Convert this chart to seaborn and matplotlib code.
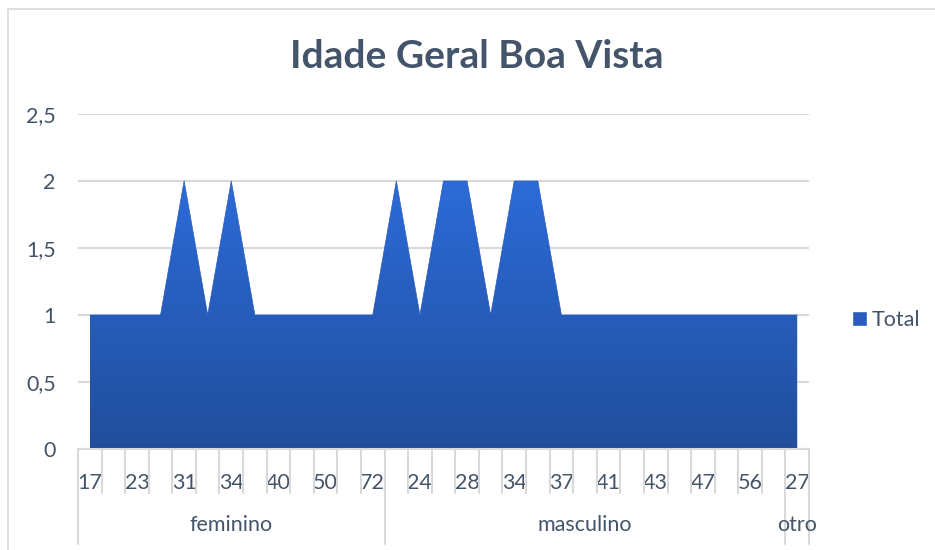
import numpy as np
import seaborn as sns
import matplotlib.pyplot as plt
from matplotlib.colors import LinearSegmentedColormap
from matplotlib.patches import Patch, Rectangle
import matplotlib.transforms as mtrans

# age categories per group (every other one hidden on the axis in the original)
feminino = [17, 20, 23, 27, 31, 33, 34, 38, 40, 45, 50, 61, 72]
masculino = [22, 24, 26, 28, 30, 34, 35, 37, 39, 41, 42, 43, 45, 47, 52, 56, 60]
otro = [27]
groups = ["feminino", "masculino", "otro"]

total_fem = [1, 1, 1, 1, 2, 1, 2, 1, 1, 1, 1, 1, 1]
total_masc = [2, 1, 2, 2, 1, 2, 2, 1, 1, 1, 1, 1, 1, 1, 1, 1, 1]
total_otro = [1]

ages = feminino + masculino + otro
totals = total_fem + total_masc + total_otro
sizes = [len(feminino), len(masculino), len(otro)]
pos = np.arange(len(ages))

sns.set_style("white")
plt.rcParams["font.family"] = ["Lato", "DejaVu Sans"]
txt = "#44546A"
grid = "#D9D9D9"

fig = plt.figure(figsize=(9.35, 5.5), dpi=100)
ax = fig.add_axes([78 / 935, 1 - 449 / 550, (809 - 78) / 935, (449 - 114) / 550])

# chart border
fig.patches.append(Rectangle((8 / 935, -0.1), 1.2, 1.1 - 9 / 550, transform=fig.transFigure,
                             fill=False, edgecolor=grid, lw=1.2))

sns.lineplot(x=pos, y=totals, ax=ax, color="#2A5CBF", lw=0.5, zorder=3)
poly = ax.fill_between(pos, 0, totals, facecolor="none", edgecolor="none")
cmap = LinearSegmentedColormap.from_list("g", ["#214E9C", "#2C6BD8"])
grad = np.linspace(0, 1, 256).reshape(-1, 1)
im = ax.imshow(grad, cmap=cmap, origin="lower", aspect="auto",
               extent=[pos[0], pos[-1], 0, max(totals)], zorder=2)
im.set_clip_path(poly.get_paths()[0], transform=ax.transData)

ax.set_xlim(-0.5, len(ages) - 0.5)
ax.set_ylim(0, 2.5)
ax.set_yticks(np.arange(0, 2.51, 0.5))
ax.set_yticklabels([f"{v:g}".replace(".", ",") for v in np.arange(0, 2.51, 0.5)],
                   color=txt, fontsize=15.5)
ax.tick_params(axis="y", length=0, pad=16)
ax.yaxis.grid(True, color=grid, lw=1.5)
ax.set_axisbelow(True)
for s in ["top", "right", "left"]:
    ax.spines[s].set_visible(False)
ax.spines["bottom"].set_color(grid)
ax.spines["bottom"].set_linewidth(1.5)

# category labels, every other one shown
ax.set_xticks(pos)
ax.set_xticklabels([str(a) if i % 2 == 0 else "" for i, a in enumerate(ages)],
                   color=txt, fontsize=15.5)
ax.tick_params(axis="x", length=0, pad=17)

tr = mtrans.blended_transform_factory(ax.transData, ax.transAxes)
bounds = np.cumsum([0] + sizes) - 0.5
for b in np.arange(len(ages) + 1) - 0.5:
    long = b in bounds
    ax.plot([b, b], [0, -0.285 if long else -0.13], transform=tr, color=grid,
            lw=1.5, clip_on=False)
for g, lo, hi in zip(groups, bounds[:-1], bounds[1:]):
    ax.text((lo + hi) / 2, -0.227, g, transform=tr, ha="center", va="center",
            color=txt, fontsize=15.5)

fig.text(477 / 935, 1 - 57 / 550, "Idade Geral Boa Vista", ha="center", va="center",
         fontsize=28, fontweight="bold", color=txt)

ax.legend(handles=[Patch(facecolor="#2A5CBF", label="Total")], loc="center left",
          bbox_to_anchor=(841 / 935, 1 - 320 / 550), bbox_transform=fig.transFigure,
          frameon=False, fontsize=15.5, handlelength=0.7, handleheight=0.7,
          handletextpad=0.2, borderpad=0, labelcolor=txt)

fig.savefig("out.png", dpi=100)
